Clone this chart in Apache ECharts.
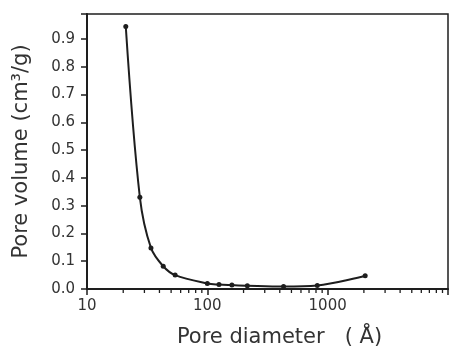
<!DOCTYPE html>
<html>
<head>
<meta charset="utf-8">
<script src="https://cdn.jsdelivr.net/npm/echarts@6/dist/echarts.min.js"></script>
<style>
	html, body { margin: 0; padding: 0; background: #fff; }
	#chart { width: 451px; height: 353px; }
</style>
</head>
<body>
<div id="chart"></div>
<script>
// pore diameter (Å) and pore volume (cm3/g)
const poreDiameter = [21, 27.5, 34, 43, 54, 100, 125, 160, 215, 430, 820, 2050];
const poreVolume = [0.945, 0.33, 0.148, 0.082, 0.05, 0.02, 0.016, 0.014, 0.012, 0.009, 0.013, 0.048];

// minor log ticks along the x axis
const minorTicks = [20, 30, 40, 50, 60, 70, 80, 90,
	200, 300, 400, 500, 600, 700, 800, 900,
	2000, 3000, 4000, 5000, 6000, 7000, 8000, 9000];

const ink = '#1e1e1e';
const textColor = '#333';
const font = 'DejaVu Sans';

const myChart = echarts.init(document.getElementById('chart'));

const option = {
	backgroundColor: '#fff',
	animation: false,
	grid: {
		left: 87, right: 1, top: 14, bottom: 57,
		show: true, borderColor: ink, borderWidth: 1.5
	},
	xAxis: {
		type: 'log',
		logBase: 10,
		min: 10,
		max: 10000,
		name: 'Pore diameter   ( Å)',
		nameLocation: 'middle',
		nameGap: 38,
		nameTextStyle: { fontFamily: font, fontSize: 21, color: textColor, padding: [0, 0, 0, 24] },
		axisLine: { lineStyle: { color: ink, width: 2 } },
		axisTick: { length: 6, lineStyle: { color: ink, width: 1.5 } },
		axisLabel: {
			fontFamily: font, fontSize: 15, color: textColor, margin: 10,
			formatter: (v) => (v >= 10000 ? '' : String(v))
		},
		splitLine: { show: false }
	},
	yAxis: {
		type: 'value',
		min: 0,
		max: 0.99,
		interval: 0.1,
		name: 'Pore volume (cm³/g)',
		nameLocation: 'middle',
		nameGap: 55,
		nameTextStyle: { fontFamily: font, fontSize: 21, color: textColor },
		axisLine: { show: true, lineStyle: { color: ink, width: 2 } },
		axisTick: { show: true, length: 6, lineStyle: { color: ink, width: 1.5 } },
		axisLabel: {
			fontFamily: font, fontSize: 15, color: textColor, margin: 12,
			formatter: (v) => (v > 0.95 ? '' : v.toFixed(1))
		},
		splitLine: { show: false }
	},
	series: [
		{
			type: 'line',
			data: poreDiameter.map((d, i) => [d, poreVolume[i]]),
			smooth: 0.35,
			symbol: 'circle',
			symbolSize: 5,
			lineStyle: { color: ink, width: 2 },
			itemStyle: { color: ink }
		},
		{
			type: 'custom',
			clip: false,
			silent: true,
			data: minorTicks.map((t) => [t, 0]),
			renderItem: (params, api) => {
				const p = api.coord([api.value(0), 0]);
				return {
					type: 'line',
					shape: { x1: p[0], y1: p[1], x2: p[0], y2: p[1] + 4 },
					style: { stroke: ink, lineWidth: 1.3 }
				};
			}
		}
	]
};

myChart.setOption(option);
</script>
</body>
</html>
